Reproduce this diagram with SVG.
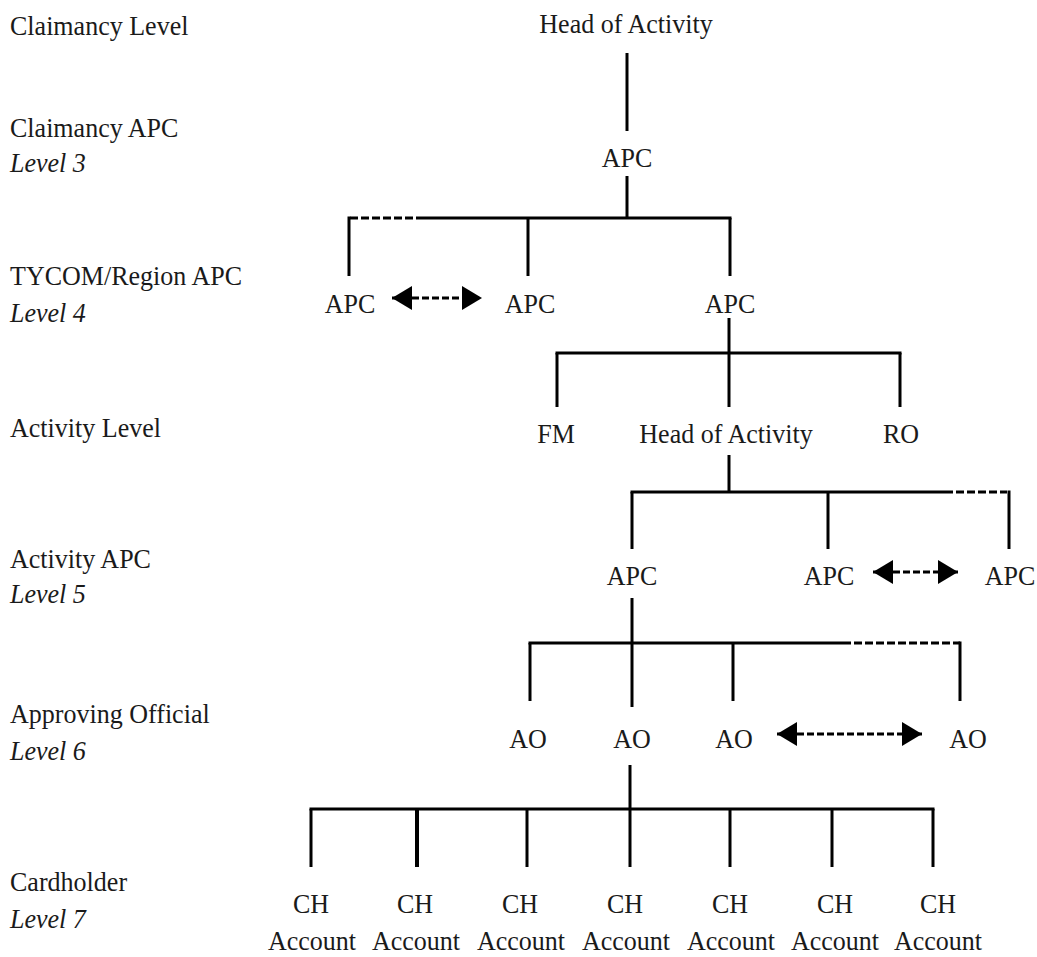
<svg xmlns="http://www.w3.org/2000/svg" width="1037" height="957" viewBox="0 0 1037 957">
  <style>
    text { font-family: "Liberation Serif", "Times New Roman", serif; font-size: 28px; fill: #1a1a1a; }
    .lvl { text-anchor: start; }
    .it { font-style: italic; }
    .nd { text-anchor: middle; }
    .ln { fill: none; stroke: #000; stroke-width: 3; stroke-linecap: butt; }
    .dash { fill: none; stroke: #000; stroke-width: 3; stroke-dasharray: 8 3; }
    .peer { fill: none; stroke: #000; stroke-width: 3; stroke-dasharray: 7 3; }
  </style>
  <defs>
    <marker id="head" viewBox="0 0 20 24" refX="20" refY="12" markerWidth="20" markerHeight="24" markerUnits="userSpaceOnUse" orient="auto-start-reverse">
      <path d="M0,0 L20,12 L0,24 Z" fill="#000"/>
    </marker>
  </defs>
  <rect width="1037" height="957" fill="#fff"/>

  <!-- level captions down the left side -->
  <g id="levels">
    <text class="lvl" transform="translate(10,35) scale(0.93,1)">Claimancy Level</text>
    <text class="lvl" transform="translate(10,137) scale(0.93,1)">Claimancy APC</text>
    <text class="lvl it" transform="translate(10,172) scale(0.93,1)">Level 3</text>
    <text class="lvl" transform="translate(10,285) scale(0.93,1)">TYCOM/Region APC</text>
    <text class="lvl it" transform="translate(10,322) scale(0.93,1)">Level 4</text>
    <text class="lvl" transform="translate(10,437) scale(0.93,1)">Activity Level</text>
    <text class="lvl" transform="translate(10,568) scale(0.93,1)">Activity APC</text>
    <text class="lvl it" transform="translate(10,603) scale(0.93,1)">Level 5</text>
    <text class="lvl" transform="translate(10,723) scale(0.93,1)">Approving Official</text>
    <text class="lvl it" transform="translate(10,760) scale(0.93,1)">Level 6</text>
    <text class="lvl" transform="translate(10,891) scale(0.93,1)">Cardholder</text>
    <text class="lvl it" transform="translate(10,928) scale(0.93,1)">Level 7</text>
  </g>

  <!-- tree connectors -->
  <g id="connectors">
    <!-- claimancy head to claimancy APC -->
    <path class="ln" d="M627,53 V131"/>
    <path class="ln" d="M627,176 V218"/>
    <path class="ln" d="M417,218 H731.5"/>
    <path class="dash" d="M350,218 H417"/>
    <path class="ln" d="M349,216.5 V276 M528,218 V276 M730,218 V276"/>
    <!-- TYCOM/Region APC to activity level -->
    <path class="ln" d="M729,318 V407"/>
    <path class="ln" d="M555.5,353 H901.5"/>
    <path class="ln" d="M557,353 V407 M900,353 V407"/>
    <!-- head of activity to activity APCs -->
    <path class="ln" d="M729,455 V492"/>
    <path class="ln" d="M630.5,492 H945"/>
    <path class="dash" d="M945,492 H1007"/>
    <path class="ln" d="M632,492 V549 M828,492 V549 M1009,490.5 V549"/>
    <!-- activity APC to approving officials -->
    <path class="ln" d="M632,598 V707"/>
    <path class="ln" d="M528.5,643 H843"/>
    <path class="dash" d="M843,643 H960"/>
    <path class="ln" d="M530,643 V701 M733,643 V701 M960,641.5 V701"/>
    <!-- approving official to cardholder accounts -->
    <path class="ln" d="M630,765 V867"/>
    <path class="ln" d="M309.5,809 H934.5"/>
    <path class="ln" d="M311,809 V867 M527,809 V867 M730,809 V867 M832,809 V867 M933,809 V867"/>
    <path class="ln" d="M417,809 V867" style="stroke-width:4"/>
    <!-- peer relationships between same-level nodes -->
    <path class="peer" d="M392,298 H482" marker-start="url(#head)" marker-end="url(#head)"/>
    <path class="peer" d="M873,572 H958" marker-start="url(#head)" marker-end="url(#head)"/>
    <path class="peer" d="M777,734 H922" marker-start="url(#head)" marker-end="url(#head)"/>
  </g>

  <!-- nodes -->
  <g id="claimancy-head"><text class="nd" transform="translate(626,33) scale(0.93,1)">Head of Activity</text></g>
  <g id="claimancy-apc"><text class="nd" transform="translate(627,167) scale(0.93,1)">APC</text></g>

  <g id="region-apc-1"><text class="nd" transform="translate(350,313) scale(0.93,1)">APC</text></g>
  <g id="region-apc-2"><text class="nd" transform="translate(530,313) scale(0.93,1)">APC</text></g>
  <g id="region-apc-3"><text class="nd" transform="translate(730,313) scale(0.93,1)">APC</text></g>

  <g id="fm"><text class="nd" transform="translate(556,443) scale(0.93,1)">FM</text></g>
  <g id="activity-head"><text class="nd" transform="translate(726,443) scale(0.93,1)">Head of Activity</text></g>
  <g id="ro"><text class="nd" transform="translate(901,443) scale(0.93,1)">RO</text></g>

  <g id="activity-apc-1"><text class="nd" transform="translate(632,585) scale(0.93,1)">APC</text></g>
  <g id="activity-apc-2"><text class="nd" transform="translate(829,585) scale(0.93,1)">APC</text></g>
  <g id="activity-apc-3"><text class="nd" transform="translate(1010,585) scale(0.93,1)">APC</text></g>

  <g id="ao-1"><text class="nd" transform="translate(528,748) scale(0.93,1)">AO</text></g>
  <g id="ao-2"><text class="nd" transform="translate(632,748) scale(0.93,1)">AO</text></g>
  <g id="ao-3"><text class="nd" transform="translate(734,748) scale(0.93,1)">AO</text></g>
  <g id="ao-4"><text class="nd" transform="translate(968,748) scale(0.93,1)">AO</text></g>

  <g id="ch-1"><text class="nd" transform="translate(311,913) scale(0.93,1)">CH</text><text class="nd" transform="translate(312,950) scale(0.93,1)">Account</text></g>
  <g id="ch-2"><text class="nd" transform="translate(415,913) scale(0.93,1)">CH</text><text class="nd" transform="translate(416,950) scale(0.93,1)">Account</text></g>
  <g id="ch-3"><text class="nd" transform="translate(520,913) scale(0.93,1)">CH</text><text class="nd" transform="translate(521,950) scale(0.93,1)">Account</text></g>
  <g id="ch-4"><text class="nd" transform="translate(625,913) scale(0.93,1)">CH</text><text class="nd" transform="translate(626,950) scale(0.93,1)">Account</text></g>
  <g id="ch-5"><text class="nd" transform="translate(730,913) scale(0.93,1)">CH</text><text class="nd" transform="translate(731,950) scale(0.93,1)">Account</text></g>
  <g id="ch-6"><text class="nd" transform="translate(835,913) scale(0.93,1)">CH</text><text class="nd" transform="translate(835,950) scale(0.93,1)">Account</text></g>
  <g id="ch-7"><text class="nd" transform="translate(938,913) scale(0.93,1)">CH</text><text class="nd" transform="translate(938,950) scale(0.93,1)">Account</text></g>
</svg>
